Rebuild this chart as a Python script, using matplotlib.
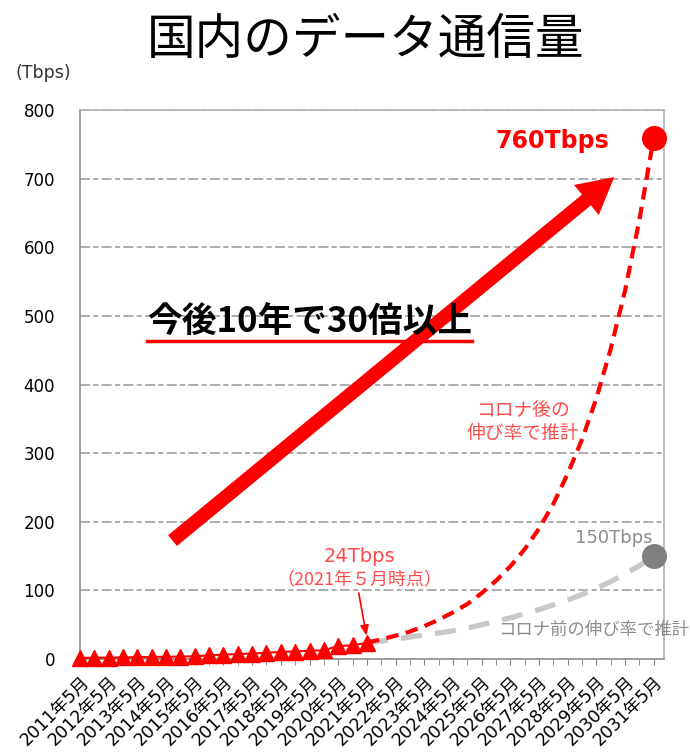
import matplotlib.pyplot as plt

plt.rcParams['font.family'] = ['DejaVu Sans', 'Noto Sans CJK JP']
jp = ['Noto Sans CJK JP', 'DejaVu Sans']

# ====== DATA ======
year_labels = [f"{y}年5月" for y in range(2011, 2032)]
# actual traffic, every half year 2011/5 .. 2021/5 (Tbps)
actual = [1.6, 1.9, 2.0, 2.3, 2.6, 3.0, 3.3, 3.5, 4.0, 5.2, 6.3,
          7.2, 7.9, 9.1, 10.3, 10.9, 12.1, 12.6, 19.0, 19.8, 23.6]
# projections, every half year 2021/5 .. 2031/5 (Tbps)
after_covid = [24, 28.5, 34, 40, 48, 57, 68, 80, 96, 114, 135,
               160, 190, 226, 270, 320, 380, 452, 537, 640, 760]
before_covid = [24, 26, 29, 32, 35, 38, 41, 45, 50, 55, 60,
                66, 72, 79, 86, 94, 103, 113, 124, 136, 150]
# ==================

red = '#ff0000'
soft_red = '#ff4d4d'
gray_txt = '#8c8c8c'

x_act = list(range(len(actual)))
x_proj = list(range(len(actual) - 1, len(actual) - 1 + len(after_covid)))
last = x_proj[-1]

fig = plt.figure(figsize=(6.9, 7.54), dpi=100)
ax = fig.add_axes([0.116, 0.126, 0.846, 0.728])

ax.plot(x_proj, before_covid, color='#c8c8c8', lw=3.8, ls=(0, (4, 2.5)), zorder=2)
ax.plot(x_proj, after_covid, color=red, lw=3.0, ls=(0, (3, 1.8)), zorder=3)
ax.plot(x_act, actual, color=red, lw=1.5, marker='^', markersize=12,
        clip_on=False, zorder=4)
ax.plot([last], [after_covid[-1]], 'o', color=red, markersize=17, clip_on=False, zorder=5)
ax.plot([last], [before_covid[-1]], 'o', color='#808080', markersize=17, clip_on=False, zorder=5)

ax.set_xlim(0, 40.7)
ax.set_ylim(0, 800)
ax.set_yticks(range(0, 801, 100))
ax.set_xticks(range(0, 41, 2))
ax.set_xticklabels(year_labels, rotation=45, ha='right', rotation_mode='anchor', fontsize=12.5)
ax.set_xticks(range(1, 41, 2), minor=True)
ax.tick_params(axis='y', length=0, pad=18, labelsize=12)
ax.tick_params(axis='x', which='both', direction='out', length=4, color='#808080', pad=6)
ax.yaxis.grid(True, color='#a0a0a0', lw=1.2, ls=(0, (6, 2, 3, 2)))
ax.set_axisbelow(True)
for s in ax.spines.values():
    s.set_color('#b0b0b0')
    s.set_linewidth(1.2)
ax.spines['left'].set_color('#909090')
ax.spines['bottom'].set_color('#909090')

fig.text(0.53, 0.947, '国内のデータ通信量', ha='center', va='center', fontsize=35, family=jp)
fig.text(0.022, 0.903, '(Tbps)', ha='left', va='center', fontsize=12.5, color='#333333')

# big arrow
ax.annotate('', xy=(37.4, 705), xytext=(6.3, 170),
            arrowprops=dict(arrowstyle='simple,head_width=2.8,head_length=2.6,tail_width=1.0',
                            mutation_scale=10, color=red, lw=0))

ax.text(4.7, 491, '今後10年で30倍以上', fontsize=25, fontweight='bold', ha='left',
        va='center', family=jp)
ax.plot([4.7, 27.3], [463, 463], color=red, lw=2.5)

ax.text(36.9, 755, '760Tbps', color=red, fontsize=17, fontweight='bold',
        ha='right', va='center')
ax.text(39.9, 177, '150Tbps', color=gray_txt, fontsize=13, ha='right', va='center')
ax.text(42.5, 42, 'コロナ前の伸び率で推計', color=gray_txt, fontsize=12.5, ha='right',
        va='center', clip_on=False, family=jp)
ax.text(30.9, 345, 'コロナ後の\n伸び率で推計', color=soft_red, fontsize=13.5,
        ha='center', va='center', linespacing=1.15, family=jp)

ax.text(19.5, 149, '24Tbps', color=soft_red, fontsize=14, ha='center', va='center')
ax.text(19.5, 115, '（2021年５月時点）', color=soft_red, fontsize=13, ha='center',
        va='center', family=jp)
ax.annotate('', xy=(20.0, 30), xytext=(19.4, 100),
            arrowprops=dict(arrowstyle='-|>,head_width=0.25,head_length=0.6',
                            color=red, lw=1.2))

plt.savefig('out.png', dpi=100)
